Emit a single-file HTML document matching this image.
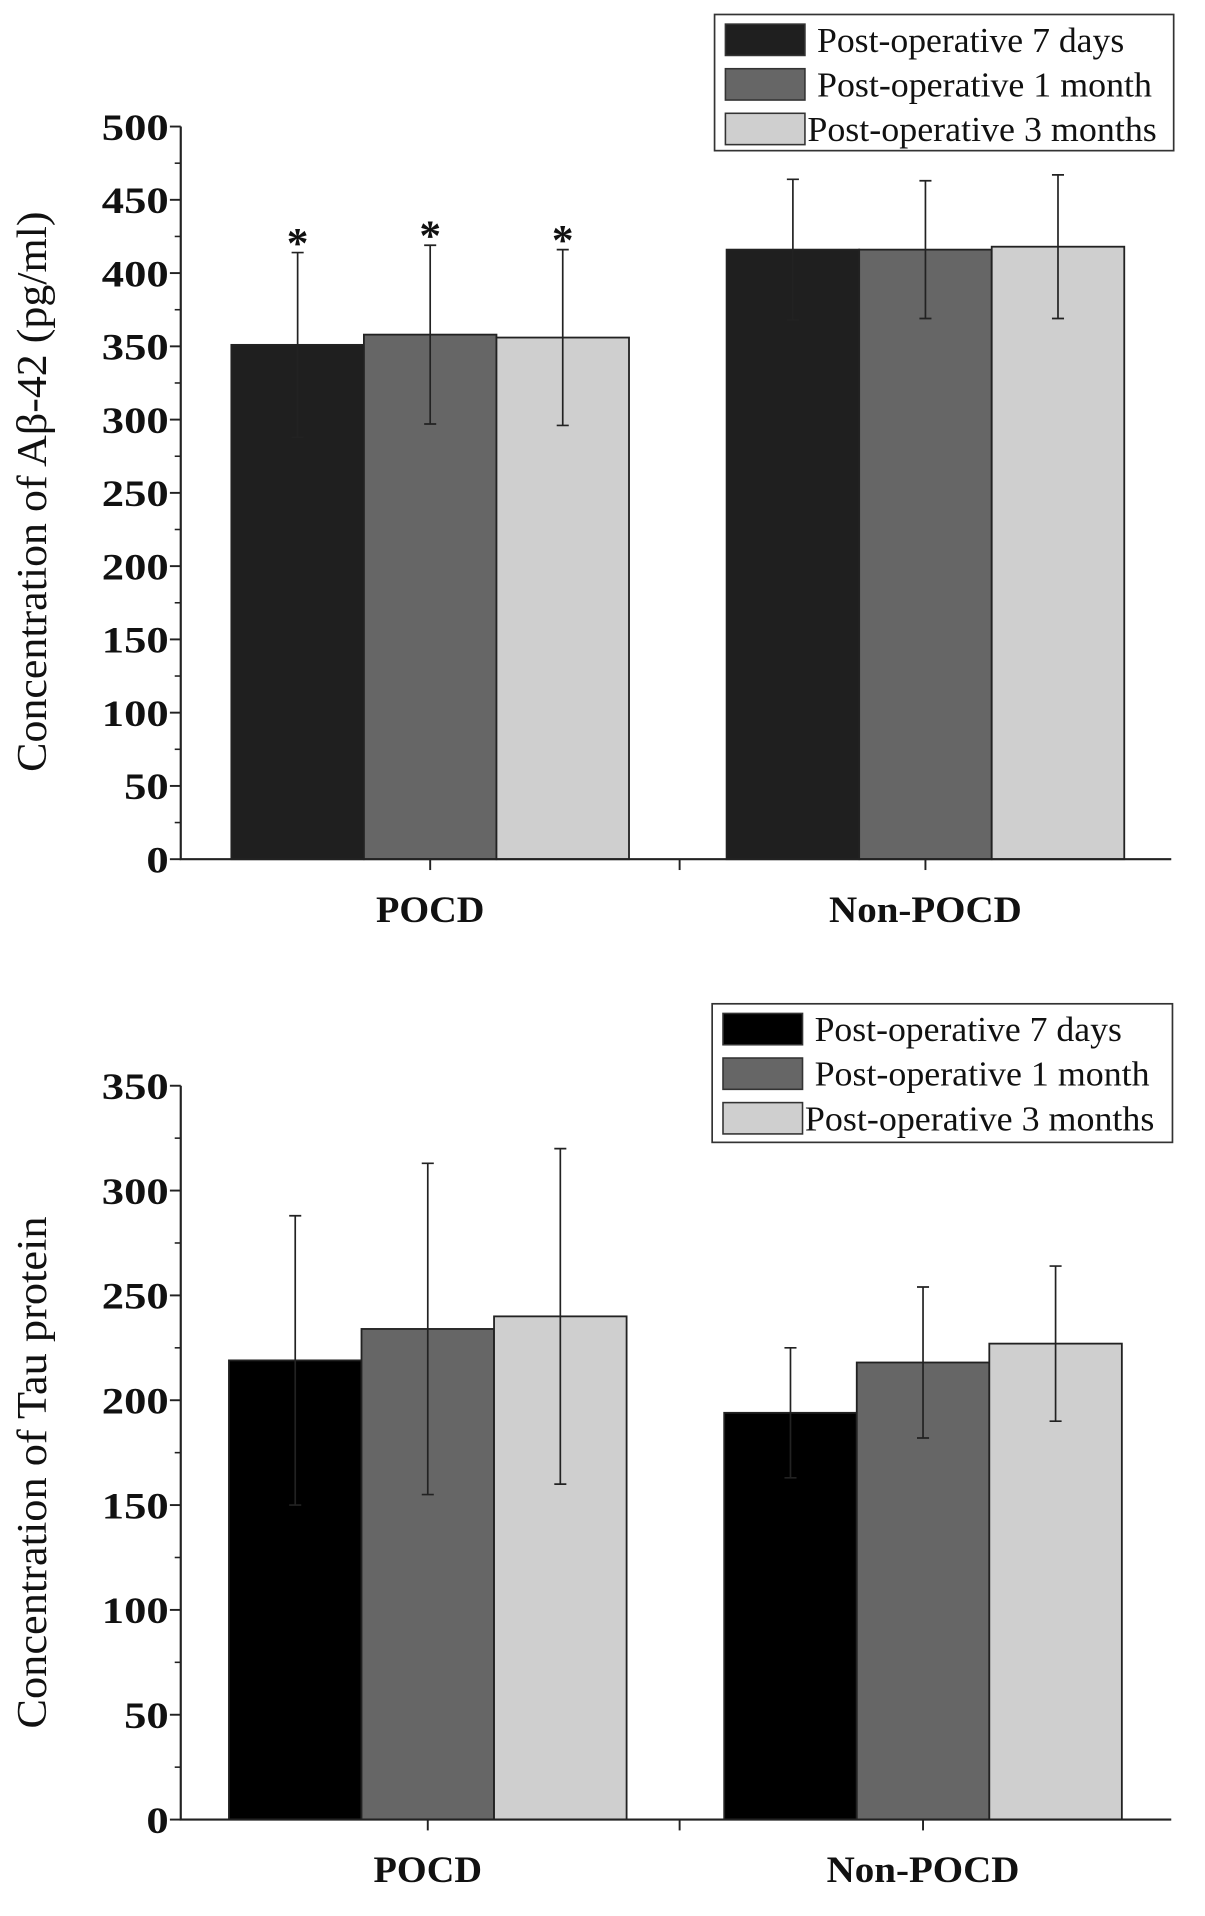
<!DOCTYPE html>
<html><head><meta charset="utf-8"><style>
html,body{margin:0;padding:0;background:#fff}
svg{display:block}
text{font-family:"Liberation Serif",serif;fill:#111}
</style></head><body>
<svg id="fig" width="1205" height="1916" viewBox="0 0 1000 1590"></svg>
<script>
const categories = ["POCD", "Non-POCD"];
const seriesNames = ["Post-operative 7 days", "Post-operative 1 month", "Post-operative 3 months"];
const abMeans = [[351, 358, 356], [416, 416, 418]];
const abErrLow = [[288, 297, 296], [368, 369, 369]];
const abErrHigh = [[414, 419, 416], [464, 463, 467]];
const abStars = [["*", "*", "*"], ["", "", ""]];
const abTicks = [0, 50, 100, 150, 200, 250, 300, 350, 400, 450, 500];
const tauMeans = [[219, 234, 240], [194, 218, 227]];
const tauErrLow = [[150, 155, 160], [163, 182, 190]];
const tauErrHigh = [[288, 313, 320], [225, 254, 264]];
const tauTicks = [0, 50, 100, 150, 200, 250, 300, 350];

const NS = "http://www.w3.org/2000/svg";
const svg = document.getElementById("fig");
function mk(tag, attrs, parent, txt) {
  const e = document.createElementNS(NS, tag);
  for (const k in attrs) e.setAttribute(k, attrs[k]);
  if (txt !== undefined) e.textContent = txt;
  (parent || svg).appendChild(e);
  return e;
}
const legendLens = [255, 278, 290];

function chart(cfg) {
  const g = mk("g", {});
  
  
  const yMax = cfg.ticks[cfg.ticks.length - 1];
  const y = v => cfg.y0 - (v / yMax) * (cfg.y0 - cfg.yTop);
  const groupStarts = cfg.groupStarts;
  const bw = cfg.barW;
  cfg.means.forEach((grp, gi) => {
    grp.forEach((v, si) => {
      const x = groupStarts[gi] + si * bw;
      const r = mk("rect", {x: x, y: y(v), width: bw, height: cfg.y0 - y(v), fill: cfg.colors[si], stroke: "#222", "stroke-width": 1.5}, g);
      
      
      const cx = x + bw / 2;
      const eb = mk("path", {d: `M${cx},${y(cfg.lo[gi][si])}V${y(cfg.hi[gi][si])}M${cx-5},${y(cfg.hi[gi][si])}H${cx+5}M${cx-5},${y(cfg.lo[gi][si])}H${cx+5}`, stroke: "#222", "stroke-width": 1.4, fill: "none"}, g);
      
      
      if (cfg.stars && cfg.stars[gi][si]) {
        const s = mk("text", {x: cx, y: y(cfg.hi[gi][si]) + 4, "text-anchor": "middle", "font-size": 36, "font-weight": "bold"}, g, cfg.stars[gi][si]);
        
        
      }
    });
  });
  const ax = mk("path", {d: `M${cfg.axX},${cfg.yTop}V${cfg.y0}H${cfg.axRight}`, stroke: "#222", "stroke-width": 1.8, fill: "none"}, g);
  
  
  const step = cfg.ticks[1] - cfg.ticks[0];
  cfg.ticks.forEach((t, i) => {
    mk("line", {x1: cfg.axX - 9, x2: cfg.axX, y1: y(t), y2: y(t), stroke: "#222", "stroke-width": 1.6}, g);
    const s = String(t);
    const lab = mk("text", {x: cfg.axX - 10, y: y(t) + 11, "text-anchor": "end", "font-size": 31, "font-weight": "bold", textLength: s.length * 18.5, lengthAdjust: "spacingAndGlyphs"}, g, s);
    
    
    if (i < cfg.ticks.length - 1) mk("line", {x1: cfg.axX - 5, x2: cfg.axX, y1: y(t + step / 2), y2: y(t + step / 2), stroke: "#222", "stroke-width": 1.3}, g);
  });
  const centers = groupStarts.map(s => s + 1.5 * bw);
  const xt = [centers[0], (cfg.axX + cfg.axRight) / 2 + 3, centers[1]];
  xt.forEach(x => mk("line", {x1: x, x2: x, y1: cfg.y0, y2: cfg.y0 + 9, stroke: "#222", "stroke-width": 1.6}, g));
  const catLens = [90, 160];
  categories.forEach((c, i) => {
    const t = mk("text", {x: centers[i], y: cfg.y0 + 52, "text-anchor": "middle", "font-size": 31, "font-weight": "bold", textLength: catLens[i], lengthAdjust: "spacingAndGlyphs"}, g, c);
    
    
  });
  const yt = mk("text", {x: 0, y: 0, transform: `translate(${cfg.titleX},${cfg.titleY}) rotate(-90)`, "text-anchor": "middle", "font-size": 35, textLength: cfg.titleLen, lengthAdjust: "spacingAndGlyphs"}, g, cfg.title);
  
  
  const L = cfg.legend;
  const lg = mk("g", {}, g);
  
  
  mk("rect", {x: L.x, y: L.y, width: L.w, height: L.h, fill: "#fff", stroke: "#333", "stroke-width": 1.4}, lg);
  seriesNames.forEach((n, i) => {
    const ry = L.y + 21 + i * 37;
    const e = mk("g", {}, lg);
    
    
    mk("rect", {x: L.x + 9, y: ry - 13, width: 66, height: 26, fill: cfg.colors[i], stroke: "#333", "stroke-width": 1.3}, e);
    mk("text", {x: i === 2 ? L.x + 77 : L.x + 85, y: ry + 10, "font-size": 29, textLength: legendLens[i], lengthAdjust: "spacingAndGlyphs"}, e, n);
  });
}

chart({name: "abeta-chart", means: abMeans, lo: abErrLow, hi: abErrHigh, stars: abStars, ticks: abTicks,
  colors: ["#1f1f1f", "#666666", "#cfcfcf"], y0: 713, yTop: 105, axX: 150, axRight: 972,
  groupStarts: [192, 603], barW: 110, title: "Concentration of Aβ-42 (pg/ml)", titleX: 38, titleY: 408, titleLen: 465,
  legend: {x: 593, y: 12, w: 381, h: 113}});
chart({name: "tau-chart", means: tauMeans, lo: tauErrLow, hi: tauErrHigh, stars: null, ticks: tauTicks,
  colors: ["#000000", "#666666", "#cfcfcf"], y0: 1510, yTop: 901, axX: 150, axRight: 972,
  groupStarts: [190, 601], barW: 110, title: "Concentration of Tau protein", titleX: 38, titleY: 1222, titleLen: 425,
  legend: {x: 591, y: 833, w: 382, h: 115}});
</script>
</body></html>
